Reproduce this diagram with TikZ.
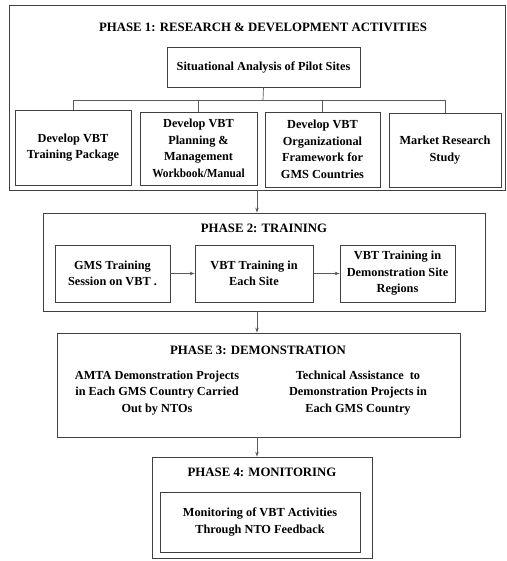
\documentclass[tikz,border=0pt]{standalone}
\usepackage{fontspec}
\setmainfont{Liberation Serif}
\usetikzlibrary{arrows.meta}
\tikzset{
  every node/.style={font=\bfseries\fontsize{12.3}{16.5}\selectfont, text=black},
  ttl/.style={inner sep=0pt, align=center, font=\bfseries\fontsize{12.8}{16.5}\selectfont},
  box/.style={draw=black!75, line width=0.8pt, rectangle, inner sep=0pt, align=center},
  plain/.style={inner sep=0pt, align=center},
  conn/.style={draw=black!65, line width=0.7pt},
  arr/.style={conn, -{Stealth[length=5pt,width=3.5pt]}}
}
\begin{document}
\begin{tikzpicture}[x=1pt,y=-1pt]
\useasboundingbox (0,0) rectangle (506,561);
% Phase 1
\node[box, minimum width=496pt, minimum height=185pt] (p1) at (257,97.5) {};
\node[ttl] (t1) at (263,27) {PHASE 1: RESEARCH \& DEVELOPMENT ACTIVITIES};
\node[box, minimum width=193pt, minimum height=40pt] (sit) at (263.5,67) {Situational Analysis of Pilot Sites};
\node[box, minimum width=116pt, minimum height=75pt] (a) at (73,147.5) {Develop VBT\\Training Package};
\node[box, minimum width=117pt, minimum height=73pt] (b) at (198.5,148.5) {Develop VBT\\Planning \&\\Management\\\scalebox{0.92}[1]{Workbook/Manual}};
\node[box, minimum width=115pt, minimum height=75pt] (c) at (322.5,149.5) {Develop VBT\\Organizational\\Framework for\\GMS Countries};
\node[box, minimum width=112pt, minimum height=74pt] (d) at (445,150) {Market Research\\Study};
\coordinate (bus) at (263,100);
\draw[conn] (sit.south) -- (bus);
\draw[conn] (a.north) -- (a.north |- bus) -- (d.north |- bus) -- (d.north);
\draw[conn] (b.north) -- (b.north |- bus);
\draw[conn] (c.north) -- (c.north |- bus);
% Phase 2
\node[box, minimum width=442pt, minimum height=98pt] (p2) at (264,262) {};
\node[ttl] (t2) at (264,228) {PHASE 2: TRAINING};
\node[box, minimum width=115pt, minimum height=57pt] (e) at (112.5,273.5) {GMS Training\\Session on VBT .};
\node[box, minimum width=118pt, minimum height=57pt] (f) at (254,273.5) {VBT Training in\\Each Site};
\node[box, minimum width=115pt, minimum height=57pt] (g) at (397.5,273.5) {VBT Training in\\Demonstration Site\\Regions};
\draw[arr] (e.east) -- (f.west);
\draw[arr] (f.east) -- (g.west);
\draw[arr] (p1.south) -- (p1.south |- p2.north);
% Phase 3
\node[box, minimum width=403pt, minimum height=104pt] (p3) at (258.5,385) {};
\node[ttl] (t3) at (258,350) {PHASE 3: DEMONSTRATION};
\node[plain] (h) at (157,393) {AMTA Demonstration Projects\\in Each GMS Country Carried\\Out by NTOs};
\node[plain] (i) at (358,393) {Technical Assistance\ \ to\\Demonstration Projects in\\Each GMS Country};
\draw[arr] (p1.south |- p2.south) -- (p1.south |- p3.north);
% Phase 4
\node[box, minimum width=220pt, minimum height=101pt] (p4) at (262,507.5) {};
\node[ttl] (t4) at (262,472) {PHASE 4: MONITORING};
\node[box, minimum width=200pt, minimum height=60pt] (j) at (260,522) {Monitoring of VBT Activities\\Through NTO Feedback};
\draw[arr] (p1.south |- p3.south) -- (p1.south |- p4.north);
\end{tikzpicture}
\end{document}
